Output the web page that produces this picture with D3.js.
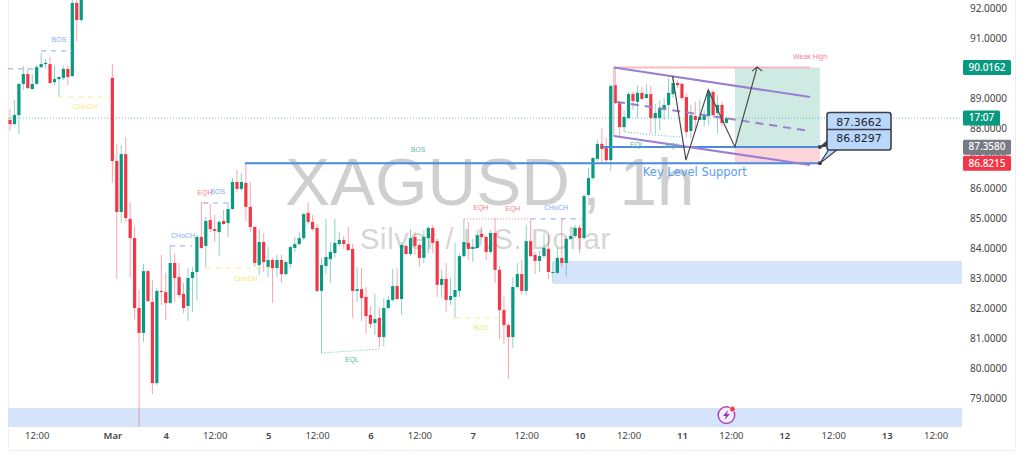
<!DOCTYPE html>
<html><head><meta charset="utf-8">
<style>html,body{margin:0;padding:0;background:#fff;overflow:hidden}svg{display:block}</style>
<script src="https://cdnjs.cloudflare.com/ajax/libs/d3/7.8.5/d3.min.js"></script>
</head><body><div id="chart"></div>
<script>
const opens=[88.27,88.13,88.43,89.47,89.8,89.3,89.47,90.03,90.13,90.13,89.53,89.63,89.67,89.97,89.73,92.17,91.6,92.5,93.1,93.5,93.3,93.6,93.2,89.67,86.9,85.2,87.13,84.97,84.33,82,81.17,83.23,82.2,79.5,82.57,82.53,82.17,83.5,83.03,82.47,82.07,83,83.2,84.37,84.07,84.93,84.63,84.53,84.9,84.83,85.3,86.2,85.97,86.17,85.37,84.7,83.43,84.2,83.37,83.6,83.33,83.6,83.13,83.47,84,84.13,84.33,85.17,84.87,84.67,82.57,83.4,83.63,83.83,84.13,84.27,84.13,83.97,82.57,82.63,82.37,81.77,81.5,81.67,81.03,82,82.27,82.73,82.3,84.07,83.8,84.37,84.1,83.67,84.33,84.67,84.23,82.77,82.97,82.27,82.37,82.57,83.73,84.17,83.97,84,84.47,84.37,83.87,84.5,83.27,81.93,81.43,81.03,82.7,83.13,82.57,84.23,83.77,83.57,83.73,83.97,83.17,83.17,83.67,83.5,84.3,84.4,84.67,84.33,85.77,86.33,86.97,87.47,87.33,86.93,89.43,88.83,88.03,88.33,89.13,88.87,89.17,89,89.13,88.33,88.33,88.6,88.77,89.13,89.5,89.47,89.03,87.9,88.4,88.27,88.27,88.4,89.2,88.5,88.77,88.17];
const highs=[88.63,88.93,89.5,90.07,89.97,89.8,90.1,90.5,90.3,90.37,90.07,89.73,90.07,90.07,92.3,92.4,92.7,93.4,93.8,94.2,93.9,94.1,93.6,90.13,87.47,87.43,87.7,85.53,84.73,82.6,83.47,83.27,82.93,82.67,83.77,83.17,84.07,83.83,83.5,82.83,83.33,83.37,84.43,85.53,85.03,85.47,85.1,84.93,85.27,85.5,86.33,86.6,86.5,86.83,86.2,84.73,84.63,84.5,84.03,83.67,83.77,83.77,83.6,84.07,84.37,84.53,85.17,85.53,85.1,84.8,83.67,84.97,84.2,84.97,84.53,84.4,84.7,84.13,83.37,83.33,82.7,82.07,82.47,82.03,82.33,82.4,83.3,83.33,84.2,84.13,84.63,84.53,84.17,84.6,84.73,84.77,84.3,83.27,83.5,83,84.17,83.83,84.97,84.87,84.3,84.6,84.7,84.4,84.6,85,83.4,82.37,81.5,83.03,83.5,83.6,84.77,84.97,83.87,83.9,84.5,84.43,83.53,84,84.97,84.37,84.7,84.77,84.77,85.8,86.67,87.03,87.6,88,87.67,89.47,90,88.9,88.6,89.2,89.2,89.43,89.37,89.47,89.4,88.8,88.93,89,89.67,89.7,89.6,89.5,89.17,88.77,88.87,88.93,88.6,89.27,89.27,89.1,88.87,88.4];
const lows=[87.9,88.1,87.8,89.27,89.3,89.27,89.43,90,89.97,89.47,89.43,89.03,89.6,89.43,89.7,90.9,91.53,92.4,92.8,93.1,92.9,93,92.6,86.17,82.97,84.83,84.87,83,81.63,78.03,80.87,82.2,79.13,79.43,82.1,81.6,82.13,82.2,82.33,81.83,81.57,81.87,82.27,83.97,83.33,84.53,84.2,83.73,84.77,84.37,85.27,85.87,85.9,84.9,84.53,83.37,83.1,83.2,83.03,82.17,83.03,82.83,83.07,83.33,83.87,84.07,84.27,84.8,84.57,82.53,80.5,83.13,82.83,83.67,84.07,83.97,83.9,81.67,82.2,81.57,81.13,81.33,81.1,80.7,80.73,81.97,82.2,82.27,81.77,83.77,83.73,83.77,83.37,83.5,83.83,83.83,82.37,82.37,81.87,82.1,81.67,82.37,83.67,83.6,83.53,83.97,84.33,83.6,83.8,82.83,80.97,80.8,79.63,80.67,82.63,82.43,82.43,83.7,83.13,83.2,83.67,82.97,82.83,83.13,83.37,83.07,84.27,84.33,83.83,84.27,85.7,86.27,86.9,86.83,86.83,86.57,88.8,87.7,87.87,88.3,88.6,88.33,88.93,88.97,87.8,87.8,87.93,88.27,88.33,89,89.33,88.93,87.7,87.67,87.87,88.27,88.03,88.1,88.37,87.83,88.03,88.13];
const closes=[88.13,88.43,89.47,89.8,89.33,89.47,90.03,90.13,90.17,89.5,89.63,89.7,89.97,89.7,92.17,91.6,92.5,93.1,93.5,93.3,93.6,93.2,92.9,86.9,85.2,87.13,85,84.33,82,81.17,83.23,82.23,79.5,82.57,82.53,82.17,83.5,83,82.43,82,83,83.2,84.37,84,84.9,84.63,84.57,84.87,84.8,85.3,86.2,85.97,86.2,85.37,84.7,83.5,84.2,83.53,83.6,83.33,83.6,83.13,83.53,84.03,84.13,84.33,85.13,84.87,84.63,82.57,83.43,83.7,83.87,84.17,84.27,84.13,83.93,82.57,82.63,82.33,81.73,81.47,81.63,81.03,82,82.27,82.73,82.3,84.1,83.8,84.33,84.07,83.67,84.37,84.67,84.17,82.77,82.97,82.27,82.4,82.6,83.73,84.2,83.97,84.03,84.43,84.37,83.87,84.5,83.27,81.93,81.43,81.03,82.7,83.13,82.57,84.23,83.73,83.57,83.73,84,83.2,83.2,83.67,83.5,84.3,84.4,84.67,84.33,85.73,86.33,87,87.47,87.3,86.93,89.4,88.83,88.03,88.37,89.13,88.9,89.17,88.97,89.13,88.33,88.5,88.67,88.77,89.17,89.5,89.43,89,87.87,88.43,88.27,88.37,88.4,89.23,88.43,88.77,88.17,88.33];

const priceTicks=[92,91,90,89,88,87,86,85,84,83,82,81,80,79];
const timeTickIdx=[6,23,35,46,58,69,81,92,104,116,128,139,151,162,174,185,197,208];
const timeTickLabels=["12:00","Mar","4","12:00","5","12:00","6","12:00","7","12:00","10","12:00","11","12:00","12","12:00","13","12:00"];

const currentPrice=88.33, targetPrice=90.0162, entryPrice=87.3662, stopPrice=86.8215;
const priceTags=[["90.0162",90.0162,"#089981",48],["17:07",88.33,"#089981",37],["87.3580",87.358,"#787b86",48],["86.8215",86.8215,"#f23645",48]];
const callouts=[["87.3662",87.36],["86.8297",86.82]];

const zones=[[122.2,83.57,82.8],[-0.5,78.67,78.03]];

const blueDash=[[-0.45,5.17,89.97],[7,13.93,90.57],[36,41,84.07],[43.4,49.9,85.5],[117,128.5,84.97]];
const yellowDash=[[10.8,22.5,89.03],[44,59.8,83.33],[100,110.1,81.67]];
const redDot=[[43,45,85.5],[102,116.9,84.97]];
const tealDot=[[[70,80.5],[83,80.63]],[[138.2,87.87],[144.3,87.77],[150.6,87.7]]];

const zigzag=[[148.9,89.73],[151.9,86.93],[156.9,89.27],[162.9,87.37],[167.9,90.03]];
const channelTop=[[135.7,90.02],[179.8,89.03]];
const channelMid=[[136.4,88.87],[179.8,87.9]];
const channelBot=[[135.7,87.73],[179.8,86.77]];

const labelText=["BOS","CHoCH","CHoCH","EQH","BOS","CHoCH","BOS","EQL","EQH","EQH","CHoCH","BOS","EQL","EQL","Weak High"];
const labelIdx=[11,16.85,38.9,43.8,46.7,53,91.7,76.85,105.8,113,122.7,105.8,140.9,148.8,179.8];
const labelPrice=[90.93,88.7,84.41,85.83,85.87,82.97,87.27,80.27,85.33,85.3,85.33,81.33,87.43,87.4,90.37];
const labelKind=["b","y","b","r","b","y","t","t","r","r","b","y","t","t","r"];
const kindColor={b:"#86a9f7",y:"#f7e86a",r:"#f5838d",t:"#5cbcaa"};

const W=1024,H=459;
const x=d3.scaleLinear().domain([0,100]).range([10,455]);
const y=d3.scaleLinear().domain([92,79]).range([8,398]);
const UP="#089981",DN="#f23645";
const plotRight=962;
const svg=d3.select("#chart").append("svg").attr("width",W).attr("height",H);
svg.append("defs").append("clipPath").attr("id","plot").append("rect").attr("x",8).attr("y",0).attr("width",955).attr("height",427);

// panel frame
svg.append("path").attr("d","M8.5 0V450.5H1015.5V0").attr("fill","none").attr("stroke","#f0f0f2");

// watermark
const wm=svg.append("text").attr("x",285).attr("y",205).attr("font-family","Liberation Sans").attr("font-size",67.5).attr("fill","#cfcfcf");
wm.append("tspan").text("XAGUSD");
wm.append("tspan").attr("dx",12).text(", 1h");
svg.append("text").attr("x",360).attr("y",249).attr("font-family","Liberation Sans").attr("font-size",29).attr("letter-spacing",.7).attr("fill","#d6d6d6").text("Silver / U.S. Dollar");

const plot=svg.append("g").attr("clip-path","url(#plot)");
// zones
plot.selectAll(null).data(zones).join("rect").attr("x",d=>x(d[0])).attr("width",d=>plotRight-x(d[0])).attr("y",d=>y(d[1])).attr("height",d=>y(d[2])-y(d[1])).attr("fill","#d6e4fb");

// position box
const boxL=162.9,boxR=182;
plot.append("rect").attr("x",x(boxL)).attr("width",x(boxR)-x(boxL)).attr("y",y(targetPrice)).attr("height",y(entryPrice)-y(targetPrice)).attr("fill","#cfe9e3");
plot.append("rect").attr("x",x(boxL)).attr("width",x(boxR)-x(boxL)).attr("y",y(entryPrice)).attr("height",y(stopPrice)-y(entryPrice)).attr("fill","#fbd5d9");

// current price line
plot.append("line").attr("x1",8).attr("x2",963).attr("y1",y(currentPrice)).attr("y2",y(currentPrice)).attr("stroke","#089981").attr("stroke-opacity",.55).attr("stroke-dasharray","1 2");

// candles
const candles=d3.range(opens.length);
plot.selectAll(null).data(candles).join("line").attr("x1",i=>x(i)).attr("x2",i=>x(i)).attr("y1",i=>y(highs[i])).attr("y2",i=>y(lows[i])).attr("stroke",i=>closes[i]>=opens[i]?UP:DN).attr("stroke-opacity",.45);
plot.selectAll(null).data(candles).join("rect").attr("x",i=>x(i)-1.6).attr("width",3.2).attr("y",i=>Math.min(y(opens[i]),y(closes[i]))).attr("height",i=>Math.max(1,Math.abs(y(opens[i])-y(closes[i])))).attr("fill",i=>closes[i]>=opens[i]?UP:DN);

// annotations
const seg=(data,color,dash,w)=>plot.selectAll(null).data(data).join("line").attr("x1",d=>x(d[0])).attr("x2",d=>x(d[1])).attr("y1",d=>y(d[2])).attr("y2",d=>y(d[2])).attr("stroke",color).attr("stroke-width",w||1).attr("stroke-dasharray",dash);
seg(blueDash,"#86a9f7","5 5");
seg(yellowDash,"#f9ec8a","5 5");
seg(redDot,"#f5838d","1 2");
const ln=d3.line().x(d=>x(d[0])).y(d=>y(d[1]));
plot.selectAll(null).data(tealDot).join("path").attr("d",ln).attr("fill","none").attr("stroke","#5cbcaa").attr("stroke-dasharray","1 2");

// key levels
plot.append("line").attr("x1",x(52.8)).attr("x2",x(182)).attr("y1",y(stopPrice)).attr("y2",y(stopPrice)).attr("stroke","#4a8be0").attr("stroke-width",2);
plot.append("line").attr("x1",x(133.3)).attr("x2",x(182)).attr("y1",y(entryPrice)).attr("y2",y(entryPrice)).attr("stroke","#4a8be0").attr("stroke-width",2);
plot.append("line").attr("x1",x(135.7)).attr("x2",x(179.8)).attr("y1",y(targetPrice)).attr("y2",y(targetPrice)).attr("stroke","#f8b9c0").attr("stroke-width",2);
plot.append("line").attr("x1",x(135.7)).attr("x2",x(135.7)).attr("y1",y(targetPrice)).attr("y2",y(channelBot[0][1])).attr("stroke","#d9a8c8").attr("stroke-width",1);

// channel
const purple="#9a7fd1";
[channelTop,channelBot].forEach(d=>plot.append("path").attr("d",ln(d)).attr("fill","none").attr("stroke",purple).attr("stroke-width",2));
plot.append("path").attr("d",ln(channelMid)).attr("fill","none").attr("stroke",purple).attr("stroke-width",2).attr("stroke-dasharray","8 6");

// zigzag with arrow
plot.append("path").attr("d",ln(zigzag)).attr("fill","none").attr("stroke","#4a4a4a").attr("stroke-width",1.2);
const tip=zigzag[zigzag.length-1];
plot.append("path").attr("d",`M${x(tip[0])-5} ${y(tip[1])+4}L${x(tip[0])} ${y(tip[1])}L${x(tip[0])+5} ${y(tip[1])+4}`).attr("fill","none").attr("stroke","#4a4a4a").attr("stroke-width",1.2);

// small labels
plot.selectAll(null).data(labelText.map((t,i)=>i)).join("text").attr("x",i=>x(labelIdx[i])).attr("y",i=>y(labelPrice[i])).attr("text-anchor","middle").attr("dominant-baseline","middle").attr("font-family","Liberation Sans").attr("font-size",7).attr("fill",i=>kindColor[labelKind[i]]).text(i=>labelText[i]);
plot.append("text").attr("x",x(153.9)).attr("y",y(86.53)).attr("text-anchor","middle").attr("dominant-baseline","middle").attr("font-family","DejaVu Sans").attr("font-size",11.5).attr("fill","#5b9cf5").text("Key Level Support");

// axes
const yAxis=svg.append("g").attr("transform","translate(970,0)").call(d3.axisRight(y).tickValues(priceTicks).tickSize(0).tickPadding(0).tickFormat(d=>d3.format(".4f")(d)));
yAxis.select(".domain").remove();
yAxis.selectAll("text").attr("font-family","Noto Sans").attr("font-size",10).attr("fill","#444");
const xAxis=svg.append("g").attr("transform","translate(0,432)").call(d3.axisBottom(x).tickValues(timeTickIdx).tickSize(0).tickPadding(0).tickFormat((d,i)=>timeTickLabels[i]));
xAxis.select(".domain").remove();
xAxis.selectAll("text").attr("font-family","Noto Sans").attr("font-size",9.5).attr("fill","#444").attr("font-weight",(d,i)=>timeTickLabels[i].includes(":")?400:600);

// price tags
const tags=svg.selectAll(null).data(priceTags).join("g").attr("transform",d=>`translate(963,${y(d[1])})`);
tags.append("rect").attr("y",-7.5).attr("height",15).attr("width",d=>d[3]).attr("rx",1.5).attr("fill",d=>d[2]);
tags.append("text").attr("x",d=>d[3]/2).attr("y",.5).attr("text-anchor","middle").attr("dominant-baseline","middle").attr("font-family","Noto Sans").attr("font-size",10).attr("font-weight",500).attr("fill","#fff").text(d=>d[0]);

// callouts
const cx=827,cw=64,ch=[112.5,129.5,150];
const ink="#3a3f4b";
const dot=(p)=>svg.append("circle").attr("cx",x(boxR)).attr("cy",y(p)).attr("r",2).attr("fill",ink);
svg.append("path").attr("d",`M${x(boxR)} ${y(entryPrice)}L${cx+1} ${y(entryPrice)-7}V${y(entryPrice)-1}Z`).attr("fill",ink).attr("stroke",ink);
svg.append("path").attr("d",`M${x(boxR)} ${y(stopPrice)}L${cx+2} ${ch[2]-1}H${cx+11}Z`).attr("fill","#b9d8fb").attr("stroke",ink).attr("stroke-width",1.2);
svg.append("rect").attr("x",cx).attr("y",ch[0]).attr("width",cw).attr("height",ch[2]-ch[0]).attr("rx",2.5).attr("fill","#b9d8fb").attr("stroke",ink).attr("stroke-width",1.6);
svg.append("line").attr("x1",cx).attr("x2",cx+cw).attr("y1",ch[1]).attr("y2",ch[1]).attr("stroke",ink).attr("stroke-width",1.4);
svg.selectAll(null).data(callouts).join("text").attr("x",cx+cw/2).attr("y",(d,i)=>[123,139][i]).attr("text-anchor","middle").attr("dominant-baseline","middle").attr("font-family","DejaVu Sans").attr("font-size",11).attr("font-weight",500).attr("fill","#20232b").text(d=>d[0]);
dot(entryPrice);dot(stopPrice);

// lightning icon
const ic=svg.append("g").attr("transform",`translate(${x(161)},${y(78.43)})`);
ic.append("circle").attr("r",8.3).attr("fill","#f4f0fb").attr("stroke","#ab47bc").attr("stroke-width",1.5);
ic.append("path").attr("d","M1.5 -5L-3.5 1H-0.5L-2 5L3.5 -1H0.5Z").attr("fill","#8e3fb5");
ic.append("circle").attr("cx",6).attr("cy",-6).attr("r",2.8).attr("fill","#f23645").attr("stroke","#fff").attr("stroke-width",.7);
</script></body></html>
